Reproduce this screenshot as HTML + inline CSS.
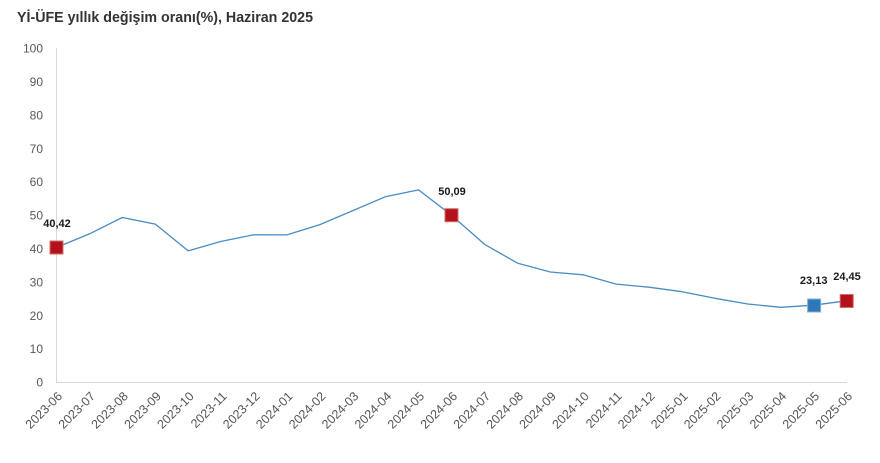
<!DOCTYPE html>
<html><head><meta charset="utf-8"><style>
html,body{margin:0;padding:0;background:#fff;}
svg{display:block;}
</style></head><body>
<svg width="880" height="463" viewBox="0 0 880 463" xmlns="http://www.w3.org/2000/svg" font-family="Liberation Sans, sans-serif">
<rect width="880" height="463" fill="#fff"/>
<text x="17" y="22" font-size="14.5" font-weight="bold" fill="#333" textLength="296" lengthAdjust="spacingAndGlyphs">Yİ-ÜFE yıllık değişim oranı(%), Haziran 2025</text>
<line x1="56.5" y1="48" x2="56.5" y2="383" stroke="#d9d9d9" stroke-width="1"/>
<line x1="56" y1="382.5" x2="847" y2="382.5" stroke="#d9d9d9" stroke-width="1"/>
<g font-size="12" fill="#595959" text-anchor="end">
<text x="43" y="52.5">100</text>
<text x="43" y="86">90</text>
<text x="43" y="119.5">80</text>
<text x="43" y="152.8">70</text>
<text x="43" y="186.2">60</text>
<text x="43" y="219.6">50</text>
<text x="43" y="253">40</text>
<text x="43" y="286.4">30</text>
<text x="43" y="319.8">20</text>
<text x="43" y="353.2">10</text>
<text x="43" y="386.7">0</text>
</g>
<g font-size="12.5" fill="#555" text-anchor="end">
<text transform="translate(63,397) rotate(-45)">2023-06</text>
<text transform="translate(95.9,397) rotate(-45)">2023-07</text>
<text transform="translate(128.8,397) rotate(-45)">2023-08</text>
<text transform="translate(161.8,397) rotate(-45)">2023-09</text>
<text transform="translate(194.7,397) rotate(-45)">2023-10</text>
<text transform="translate(227.6,397) rotate(-45)">2023-11</text>
<text transform="translate(260.5,397) rotate(-45)">2023-12</text>
<text transform="translate(293.4,397) rotate(-45)">2024-01</text>
<text transform="translate(326.4,397) rotate(-45)">2024-02</text>
<text transform="translate(359.3,397) rotate(-45)">2024-03</text>
<text transform="translate(392.2,397) rotate(-45)">2024-04</text>
<text transform="translate(425.1,397) rotate(-45)">2024-05</text>
<text transform="translate(458,397) rotate(-45)">2024-06</text>
<text transform="translate(491,397) rotate(-45)">2024-07</text>
<text transform="translate(523.9,397) rotate(-45)">2024-08</text>
<text transform="translate(556.8,397) rotate(-45)">2024-09</text>
<text transform="translate(589.7,397) rotate(-45)">2024-10</text>
<text transform="translate(622.6,397) rotate(-45)">2024-11</text>
<text transform="translate(655.5,397) rotate(-45)">2024-12</text>
<text transform="translate(688.5,397) rotate(-45)">2025-01</text>
<text transform="translate(721.4,397) rotate(-45)">2025-02</text>
<text transform="translate(754.3,397) rotate(-45)">2025-03</text>
<text transform="translate(787.2,397) rotate(-45)">2025-04</text>
<text transform="translate(820.1,397) rotate(-45)">2025-05</text>
<text transform="translate(853,397) rotate(-45)">2025-06</text>
</g>
<polyline fill="none" stroke="#4a8cc4" stroke-width="1.3" stroke-linejoin="round" points="56.5,247.5 89.4,233.9 122.3,217.5 155.3,224.1 188.2,250.9 221.1,241.4 254,234.8 286.9,234.9 319.9,224.6 352.8,210.6 385.7,196.6 418.6,189.9 451.5,215.2 484.5,244.3 517.4,263.1 550.3,272 583.2,274.8 616.1,284.1 649,287.2 682,291.7 714.9,298.3 747.8,304 780.7,307.3 813.6,305.2 846.5,300.8"/>
<g stroke-width="1">
<rect x="50" y="241" width="13" height="13" fill="#b3121c" stroke="#d46a6a"/>
<rect x="445" y="208.7" width="13" height="13" fill="#b3121c" stroke="#d46a6a"/>
<rect x="807.6" y="299" width="13" height="13" fill="#2e78b8" stroke="#7fb0da"/>
<rect x="840.2" y="294.5" width="13" height="13" fill="#b3121c" stroke="#d46a6a"/>
</g>
<g font-size="11" font-weight="bold" fill="#1a1a1a" text-anchor="middle">
<text x="57" y="227">40,42</text>
<text x="452" y="195">50,09</text>
<text x="813.7" y="284">23,13</text>
<text x="847" y="280">24,45</text>
</g>
</svg>
</body></html>
